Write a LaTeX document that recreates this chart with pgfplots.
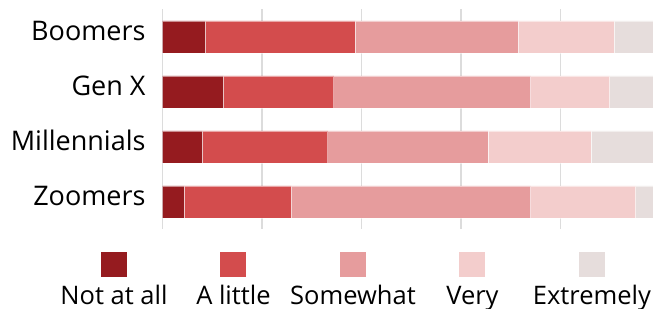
\documentclass[border=0pt]{standalone}
\usepackage{fontspec}
\setmainfont{Open Sans}
\usepackage{pgfplots}
\pgfplotsset{compat=1.18}
\definecolor{c1}{HTML}{951B1F}
\definecolor{c2}{HTML}{D34C4D}
\definecolor{c3}{HTML}{E69C9D}
\definecolor{c4}{HTML}{F3CDCC}
\definecolor{c5}{HTML}{E6DDDC}
\definecolor{gridc}{HTML}{DCDCDC}
\newcommand\legbox[2]{\makebox[119.5bp][c]{\begin{tabular}{@{}c@{}}\textcolor{#1}{\rule{26bp}{24.7bp}}\\[-2.7bp]#2\end{tabular}}}
\begin{document}
\begin{tikzpicture}
\useasboundingbox (0,0) rectangle (653bp,309bp);
\clip (0,0) rectangle (653bp,309bp);
\begin{axis}[
 at={(162.7bp,79.7bp)}, anchor=south west,
 scale only axis, width=490.3bp, height=220bp,
 xbar stacked, bar width=32bp,
 xmin=0, xmax=98.6, ymin=-0.5, ymax=3.5, y dir=reverse,
 xtick={0,20,40,60,80}, xticklabels={}, xmajorgrids,
 grid style={color=gridc, line width=1.5bp},
 ytick={0,1,2,3}, yticklabels={Boomers,Gen X,Millennials,Zoomers},
 yticklabel style={anchor=base east, inner sep=0pt, xshift=-17bp, yshift=-3.5bp, font=\fontsize{27bp}{32bp}\selectfont},
 major tick length=0, axis line style={draw=none}, tick style={draw=none},
 legend columns=5,
 legend style={at={(0.3881,-0.1032)}, anchor=north, draw=none, fill=none, inner sep=0pt,
   font=\fontsize{25.5bp}{30.5bp}\selectfont, column sep=0pt, nodes={inner sep=0pt}},
 every axis plot post/.append style={legend image code/.code={}, draw=white, draw opacity=0.5, line width=0.6bp},
]
\addplot[fill=c1] coordinates {(8.6,0) (12.2,1) (8.0,2) (4.3,3)};
\addplot[fill=c2] coordinates {(30.1,0) (22.2,1) (25.2,2) (21.6,3)};
\addplot[fill=c3] coordinates {(32.8,0) (39.6,1) (32.2,2) (48.1,3)};
\addplot[fill=c4] coordinates {(19.3,0) (15.9,1) (20.7,2) (21.1,3)};
\addplot[fill=c5] coordinates {(9.2,0) (10.1,1) (13.9,2) (4.9,3)};
\addlegendentry{\legbox{c1}{Not at all}}
\addlegendentry{\legbox{c2}{A little}}
\addlegendentry{\legbox{c3}{Somewhat}}
\addlegendentry{\legbox{c4}{Very}}
\addlegendentry{\legbox{c5}{Extremely}}
\end{axis}
\end{tikzpicture}
\end{document}
